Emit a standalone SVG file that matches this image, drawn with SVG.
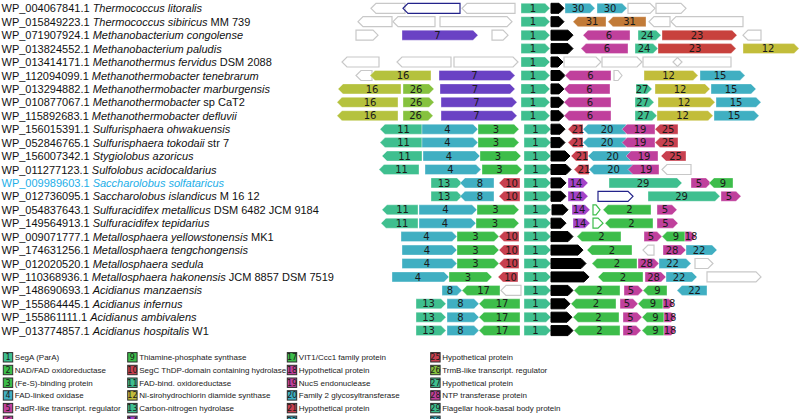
<svg xmlns="http://www.w3.org/2000/svg" width="800" height="419" viewBox="0 0 800 419">
<style>
.lb{font-family:"Liberation Sans",Arial,sans-serif;font-size:11px;fill:#111}
.it{font-style:italic}
.hl{fill:#22aee8}
.n{font-family:"DejaVu Sans",sans-serif;font-size:10px;fill:#1a1a1a;text-anchor:middle}
.a{stroke:#fff;stroke-opacity:0.35;stroke-width:1}
.c1{fill:#3fbf8f}.c2{fill:#3dbd4a}.c4{fill:#40afc2}.c5{fill:#c0409c}.c7{fill:#6a42c4}
.c10{fill:#c8404f}.c23{fill:#c8413d}.c12{fill:#c2bd3a}.c16{fill:#b5c23e}.c26{fill:#86c23e}
.c14{fill:#a443c8}.c31{fill:#c27b38}.blk{fill:#000;stroke:#000}
.w{fill:none;stroke:#c8c8c8;stroke-width:1.2}
.bo{fill:none;stroke:#23238a;stroke-width:1.2}
.go{fill:none;stroke:#3dbd4a;stroke-width:1.2}
.sw{stroke:#2d2d2d;stroke-width:1}
.sn{font-family:"DejaVu Sans",sans-serif;font-size:8px;fill:#1a1a1a;text-anchor:middle}
.lt{font-family:"Liberation Sans",Arial,sans-serif;font-size:8px;fill:#222}
</style>
<g id="connectors"/>
<g id="row1" transform="translate(0,8.3)">
<text class="lb" x="1.5" y="4">WP_004067841.1 <tspan class="it">Thermococcus litoralis</tspan></text>
<polygon class="w" points="405,-5 376,-5 371,0 376,5 405,5"/>
<polygon class="bo" points="460,-5 408,-5 403,0 408,5 460,5"/>
<polygon class="w" points="515,-5 467,-5 462,0 467,5 515,5"/>
<polygon class="a c1" points="521,-5 545,-5 550,0 545,5 521,5"/><text class="n" x="533" y="3.6">1</text>
<polygon class="blk" points="551,-5 559,-5 564,0 559,5 551,5"/>
<polygon class="a c4" points="565,-5 590,-5 595,0 590,5 565,5"/><text class="n" x="578" y="3.6">30</text>
<polygon class="a c4" points="597,-5 622,-5 627,0 622,5 597,5"/><text class="n" x="610" y="3.6">30</text>
<polygon class="w" points="628,-5 650,-5 655,0 650,5 628,5"/>
<polygon class="w" points="656,-5 681,-5 686,0 681,5 656,5"/>
</g>
<g id="row2" transform="translate(0,21.7)">
<text class="lb" x="1.5" y="4">WP_015849223.1 <tspan class="it">Thermococcus sibiricus</tspan> MM 739</text>
<polygon class="w" points="392,-5 363,-5 358,0 363,5 392,5"/>
<polygon class="w" points="435,-5 398,-5 393,0 398,5 435,5"/>
<polygon class="w" points="440,-5 507,-5 512,0 507,5 440,5"/>
<polygon class="a c1" points="521,-5 545,-5 550,0 545,5 521,5"/><text class="n" x="533" y="3.6">1</text>
<polygon class="blk" points="551,-5 559,-5 564,0 559,5 551,5"/>
<polygon class="a c31" points="606,-5 578,-5 573,0 578,5 606,5"/><text class="n" x="592" y="3.6">31</text>
<polygon class="a c31" points="646,-5 613,-5 608,0 613,5 646,5"/><text class="n" x="629.5" y="3.6">31</text>
<polygon class="w" points="670,-5 654,-5 649,0 654,5 670,5"/>
<polygon class="w" points="743,-5 676,-5 671,0 676,5 743,5"/>
</g>
<g id="row3" transform="translate(0,35.2)">
<text class="lb" x="1.5" y="4">WP_071907924.1 <tspan class="it">Methanobacterium congolense</tspan></text>
<polygon class="w" points="356,-5 373,-5 378,0 373,5 356,5"/>
<polygon class="a c7" points="402,-5 473,-5 478,0 473,5 402,5"/><text class="n" x="437.5" y="3.6">7</text>
<polygon class="w" points="492,-5 503,-5 508,0 503,5 492,5"/>
<polygon class="a c1" points="521,-5 545,-5 550,0 545,5 521,5"/><text class="n" x="533" y="3.6">1</text>
<polygon class="blk" points="551,-5 568,-5 573,0 568,5 551,5"/>
<polygon class="a c5" points="630,-5 588,-5 583,0 588,5 630,5"/><text class="n" x="609" y="3.6">6</text>
<polygon class="a c1" points="638,-5 656,-5 661,0 656,5 638,5"/><text class="n" x="647" y="3.6">24</text>
<polygon class="a c23" points="662,-5 732,-5 737,0 732,5 662,5"/><text class="n" x="697" y="3.6">23</text>
<polygon class="w" points="761,-5 748,-5 743,0 748,5 761,5"/>
</g>
<g id="row4" transform="translate(0,48.6)">
<text class="lb" x="1.5" y="4">WP_013824552.1 <tspan class="it">Methanobacterium paludis</tspan></text>
<polygon class="a c1" points="521,-5 545,-5 550,0 545,5 521,5"/><text class="n" x="533" y="3.6">1</text>
<polygon class="blk" points="551,-5 568,-5 573,0 568,5 551,5"/>
<polygon class="a c5" points="628,-5 586,-5 581,0 586,5 628,5"/><text class="n" x="607" y="3.6">6</text>
<polygon class="a c1" points="635,-5 653,-5 658,0 653,5 635,5"/><text class="n" x="644" y="3.6">24</text>
<polygon class="a c23" points="658,-5 731,-5 736,0 731,5 658,5"/><text class="n" x="695" y="3.6">23</text>
<polygon class="a c12" points="743,-5 794,-5 799,0 794,5 743,5"/><text class="n" x="768" y="3.6">12</text>
</g>
<g id="row5" transform="translate(0,62)">
<text class="lb" x="1.5" y="4">WP_013414171.1 <tspan class="it">Methanothermus fervidus</tspan> DSM 2088</text>
<polygon class="w" points="379,-5 347,-5 342,0 347,5 379,5"/>
<polygon class="w" points="451,-5 402,-5 397,0 402,5 451,5"/>
<polygon class="w" points="454,-5 513,-5 518,0 513,5 454,5"/>
<polygon class="a c1" points="521,-5 545,-5 550,0 545,5 521,5"/><text class="n" x="533" y="3.6">1</text>
<polygon class="blk" points="551,-5 558,-5 563,0 558,5 551,5"/>
<polygon class="w" points="564,-5 596,-5 601,0 596,5 564,5"/>
<polygon class="w" points="602,-5 637,-5 642,0 637,5 602,5"/>
<polygon class="w" points="643,-5 677,-5 682,0 677,5 643,5"/>
<polygon class="w" points="731,-5 678,-5 673,0 678,5 731,5"/>
</g>
<g id="row6" transform="translate(0,75.5)">
<text class="lb" x="1.5" y="4">WP_112094099.1 <tspan class="it">Methanothermobacter tenebrarum</tspan></text>
<polygon class="w" points="372,-5 361,-5 356,0 361,5 372,5"/>
<polygon class="a c16" points="431,-5 375,-5 370,0 375,5 431,5"/><text class="n" x="403" y="3.6">16</text>
<polygon class="a c7" points="439,-5 510,-5 515,0 510,5 439,5"/><text class="n" x="474.5" y="3.6">7</text>
<polygon class="a c1" points="521,-5 545,-5 550,0 545,5 521,5"/><text class="n" x="533" y="3.6">1</text>
<polygon class="blk" points="551,-5 560,-5 565,0 560,5 551,5"/>
<polygon class="a c5" points="611,-5 570,-5 565,0 570,5 611,5"/><text class="n" x="590.5" y="3.6">6</text>
<polygon class="w" points="614,-5 618,-5 622,0 618,5 614,5"/>
<polygon class="a c12" points="644,-5 693,-5 698,0 693,5 644,5"/><text class="n" x="668.5" y="3.6">12</text>
<polygon class="a c4" points="700,-5 740,-5 745,0 740,5 700,5"/><text class="n" x="720" y="3.6">15</text>
</g>
<g id="row7" transform="translate(0,88.9)">
<text class="lb" x="1.5" y="4">WP_013294882.1 <tspan class="it">Methanothermobacter marburgensis</tspan></text>
<polygon class="a c16" points="401,-5 343,-5 338,0 343,5 401,5"/><text class="n" x="372" y="3.6">16</text>
<polygon class="a c26" points="403,-5 429,-5 434,0 429,5 403,5"/><text class="n" x="416" y="3.6">26</text>
<polygon class="a c7" points="440,-5 510,-5 515,0 510,5 440,5"/><text class="n" x="475" y="3.6">7</text>
<polygon class="a c1" points="521,-5 545,-5 550,0 545,5 521,5"/><text class="n" x="533" y="3.6">1</text>
<polygon class="blk" points="551,-5 559,-5 564,0 559,5 551,5"/>
<polygon class="a c5" points="610,-5 569,-5 564,0 569,5 610,5"/><text class="n" x="589.5" y="3.6">6</text>
<polygon class="a c1" points="636,-5 647,-5 652,0 647,5 636,5"/><text class="n" x="642" y="3.6">27</text>
<polygon class="a c12" points="655,-5 705,-5 710,0 705,5 655,5"/><text class="n" x="680" y="3.6">12</text>
<polygon class="a c4" points="711,-5 751,-5 756,0 751,5 711,5"/><text class="n" x="731" y="3.6">15</text>
</g>
<g id="row8" transform="translate(0,102.3)">
<text class="lb" x="1.5" y="4">WP_010877067.1 <tspan class="it">Methanothermobacter</tspan> sp CaT2</text>
<polygon class="a c16" points="398,-5 342,-5 337,0 342,5 398,5"/><text class="n" x="370" y="3.6">16</text>
<polygon class="a c26" points="403,-5 429,-5 434,0 429,5 403,5"/><text class="n" x="416" y="3.6">26</text>
<polygon class="a c7" points="441,-5 512,-5 517,0 512,5 441,5"/><text class="n" x="476.5" y="3.6">7</text>
<polygon class="a c1" points="521,-5 545,-5 550,0 545,5 521,5"/><text class="n" x="533" y="3.6">1</text>
<polygon class="blk" points="551,-5 559,-5 564,0 559,5 551,5"/>
<polygon class="a c5" points="611,-5 569,-5 564,0 569,5 611,5"/><text class="n" x="590" y="3.6">6</text>
<polygon class="a c1" points="635,-5 649,-5 654,0 649,5 635,5"/><text class="n" x="642.5" y="3.6">27</text>
<polygon class="a c12" points="658,-5 710,-5 715,0 710,5 658,5"/><text class="n" x="684" y="3.6">12</text>
<polygon class="a c4" points="716,-5 756,-5 761,0 756,5 716,5"/><text class="n" x="736" y="3.6">15</text>
</g>
<g id="row9" transform="translate(0,115.7)">
<text class="lb" x="1.5" y="4">WP_115892683.1 <tspan class="it">Methanothermobacter defluvii</tspan></text>
<polygon class="a c16" points="398,-5 342,-5 337,0 342,5 398,5"/><text class="n" x="370" y="3.6">16</text>
<polygon class="a c26" points="403,-5 428,-5 433,0 428,5 403,5"/><text class="n" x="415.5" y="3.6">26</text>
<polygon class="a c7" points="441,-5 512,-5 517,0 512,5 441,5"/><text class="n" x="476.5" y="3.6">7</text>
<polygon class="a c1" points="521,-5 545,-5 550,0 545,5 521,5"/><text class="n" x="533" y="3.6">1</text>
<polygon class="blk" points="551,-5 559,-5 564,0 559,5 551,5"/>
<polygon class="a c5" points="611,-5 569,-5 564,0 569,5 611,5"/><text class="n" x="590" y="3.6">6</text>
<polygon class="a c1" points="635,-5 652,-5 657,0 652,5 635,5"/><text class="n" x="643.5" y="3.6">27</text>
<polygon class="a c12" points="657,-5 708,-5 713,0 708,5 657,5"/><text class="n" x="682.5" y="3.6">12</text>
<polygon class="a c4" points="714,-5 754,-5 759,0 754,5 714,5"/><text class="n" x="734" y="3.6">15</text>
</g>
<g id="row10" transform="translate(0,129.2)">
<text class="lb" x="1.5" y="4">WP_156015391.1 <tspan class="it">Sulfurisphaera ohwakuensis</tspan></text>
<polygon class="a c1" points="422,-5 385,-5 380,0 385,5 422,5"/><text class="n" x="403.5" y="3.6">11</text>
<polygon class="a c4" points="422,-5 473,-5 478,0 473,5 422,5"/><text class="n" x="447.5" y="3.6">4</text>
<polygon class="a c2" points="478,-5 514,-5 519,0 514,5 478,5"/><text class="n" x="496" y="3.6">3</text>
<polygon class="a c1" points="524,-5 546,-5 551,0 546,5 524,5"/><text class="n" x="535.5" y="3.6">1</text>
<polygon class="blk" points="551,-5 560,-5 565,0 560,5 551,5"/>
<polygon class="a c10" points="583,-5 573,-5 568,0 573,5 583,5"/><text class="n" x="578" y="3.6">21</text>
<polygon class="a c4" points="626,-5 588,-5 583,0 588,5 626,5"/><text class="n" x="607" y="3.6">20</text>
<polygon class="a c5" points="655,-5 627,-5 622,0 627,5 655,5"/><text class="n" x="640" y="3.6">19</text>
<polygon class="a c10" points="678,-5 660,-5 655,0 660,5 678,5"/><text class="n" x="668" y="3.6">25</text>
</g>
<g id="row11" transform="translate(0,142.6)">
<text class="lb" x="1.5" y="4">WP_052846765.1 <tspan class="it">Sulfurisphaera tokodaii</tspan> str 7</text>
<polygon class="a c1" points="422,-5 385,-5 380,0 385,5 422,5"/><text class="n" x="403.5" y="3.6">11</text>
<polygon class="a c4" points="422,-5 473,-5 478,0 473,5 422,5"/><text class="n" x="447.5" y="3.6">4</text>
<polygon class="a c2" points="478,-5 514,-5 519,0 514,5 478,5"/><text class="n" x="496" y="3.6">3</text>
<polygon class="a c1" points="524,-5 546,-5 551,0 546,5 524,5"/><text class="n" x="535.5" y="3.6">1</text>
<polygon class="blk" points="551,-5 560,-5 565,0 560,5 551,5"/>
<polygon class="a c10" points="583,-5 573,-5 568,0 573,5 583,5"/><text class="n" x="578" y="3.6">21</text>
<polygon class="a c4" points="626,-5 588,-5 583,0 588,5 626,5"/><text class="n" x="607" y="3.6">20</text>
<polygon class="a c5" points="655,-5 627,-5 622,0 627,5 655,5"/><text class="n" x="640" y="3.6">19</text>
<polygon class="a c10" points="678,-5 660,-5 655,0 660,5 678,5"/><text class="n" x="668" y="3.6">25</text>
</g>
<g id="row12" transform="translate(0,156)">
<text class="lb" x="1.5" y="4">WP_156007342.1 <tspan class="it">Stygiolobus azoricus</tspan></text>
<polygon class="a c1" points="422,-5 387,-5 382,0 387,5 422,5"/><text class="n" x="404.5" y="3.6">11</text>
<polygon class="a c4" points="423,-5 475,-5 480,0 475,5 423,5"/><text class="n" x="449" y="3.6">4</text>
<polygon class="a c2" points="480,-5 516,-5 521,0 516,5 480,5"/><text class="n" x="498" y="3.6">3</text>
<polygon class="a c1" points="524,-5 546,-5 551,0 546,5 524,5"/><text class="n" x="535.5" y="3.6">1</text>
<polygon class="blk" points="551,-5 565,-5 570,0 565,5 551,5"/>
<polygon class="a c10" points="588,-5 576,-5 571,0 576,5 588,5"/><text class="n" x="582" y="3.6">21</text>
<polygon class="a c4" points="632,-5 593,-5 588,0 593,5 632,5"/><text class="n" x="612.5" y="3.6">20</text>
<polygon class="a c5" points="658,-5 631,-5 626,0 631,5 658,5"/><text class="n" x="644" y="3.6">19</text>
<polygon class="a c10" points="686,-5 666,-5 661,0 666,5 686,5"/><text class="n" x="675.5" y="3.6">25</text>
</g>
<g id="row13" transform="translate(0,169.5)">
<text class="lb" x="1.5" y="4">WP_011277123.1 <tspan class="it">Sulfolobus acidocaldarius</tspan></text>
<polygon class="a c1" points="419,-5 384,-5 379,0 384,5 419,5"/><text class="n" x="401.5" y="3.6">11</text>
<polygon class="a c4" points="425,-5 476,-5 481,0 476,5 425,5"/><text class="n" x="450.5" y="3.6">4</text>
<polygon class="a c2" points="482,-5 517,-5 522,0 517,5 482,5"/><text class="n" x="499.5" y="3.6">3</text>
<polygon class="a c1" points="524,-5 546,-5 551,0 546,5 524,5"/><text class="n" x="535.5" y="3.6">1</text>
<polygon class="blk" points="551,-5 566,-5 571,0 566,5 551,5"/>
<polygon class="a c10" points="589,-5 579,-5 574,0 579,5 589,5"/><text class="n" x="584" y="3.6">21</text>
<polygon class="a c4" points="633,-5 594,-5 589,0 594,5 633,5"/><text class="n" x="613.5" y="3.6">20</text>
<polygon class="a c5" points="659,-5 633,-5 628,0 633,5 659,5"/><text class="n" x="646" y="3.6">19</text>
<polygon class="w" points="691,-5 667,-5 662,0 667,5 691,5"/>
</g>
<g id="row14" transform="translate(0,182.9)">
<text class="lb hl" x="1.5" y="4">WP_009989603.1 <tspan class="it">Saccharolobus solfataricus</tspan></text>
<polygon class="a c1" points="431,-5 457,-5 462,0 457,5 431,5"/><text class="n" x="444" y="3.6">13</text>
<polygon class="a c4" points="494,-5 465,-5 460,0 465,5 494,5"/><text class="n" x="480" y="3.6">8</text>
<polygon class="a c10" points="520,-5 504,-5 499,0 504,5 520,5"/><text class="n" x="511.5" y="3.6">10</text>
<polygon class="a c1" points="524,-5 546,-5 551,0 546,5 524,5"/><text class="n" x="535.5" y="3.6">1</text>
<polygon class="blk" points="551,-5 561,-5 566,0 561,5 551,5"/>
<polygon class="a c14" points="568,-5 583,-5 588,0 583,5 568,5"/><text class="n" x="576" y="3.6">14</text>
<polygon class="a c1" points="609,-5 677,-5 682,0 677,5 609,5"/><text class="n" x="643" y="3.6">29</text>
<polygon class="a c5" points="691,-5 706,-5 711,0 706,5 691,5"/><text class="n" x="699" y="3.6">5</text>
<polygon class="a c2" points="733,-5 714,-5 709,0 714,5 733,5"/><text class="n" x="723" y="3.6">9</text>
</g>
<g id="row15" transform="translate(0,196.3)">
<text class="lb" x="1.5" y="4">WP_012736095.1 <tspan class="it">Saccharolobus islandicus</tspan> M 16 12</text>
<polygon class="a c1" points="431,-5 457,-5 462,0 457,5 431,5"/><text class="n" x="444" y="3.6">13</text>
<polygon class="a c4" points="494,-5 465,-5 460,0 465,5 494,5"/><text class="n" x="480" y="3.6">8</text>
<polygon class="a c10" points="520,-5 504,-5 499,0 504,5 520,5"/><text class="n" x="511.5" y="3.6">10</text>
<polygon class="a c1" points="524,-5 546,-5 551,0 546,5 524,5"/><text class="n" x="535.5" y="3.6">1</text>
<polygon class="blk" points="551,-5 561,-5 566,0 561,5 551,5"/>
<polygon class="a c14" points="568,-5 583,-5 588,0 583,5 568,5"/><text class="n" x="576" y="3.6">14</text>
<polygon class="bo" points="598,-5 628,-5 633,0 628,5 598,5"/>
<polygon class="a c1" points="648,-5 715,-5 720,0 715,5 648,5"/><text class="n" x="681.5" y="3.6">29</text>
<polygon class="a c5" points="721,-5 736,-5 741,0 736,5 721,5"/><text class="n" x="729" y="3.6">5</text>
</g>
<g id="row16" transform="translate(0,209.8)">
<text class="lb" x="1.5" y="4">WP_054837643.1 <tspan class="it">Sulfuracidifex metallicus</tspan>  DSM 6482 JCM 9184</text>
<polygon class="a c1" points="418,-5 387,-5 382,0 387,5 418,5"/><text class="n" x="402.5" y="3.6">11</text>
<polygon class="a c4" points="419,-5 472,-5 477,0 472,5 419,5"/><text class="n" x="445.5" y="3.6">4</text>
<polygon class="a c2" points="477,-5 514,-5 519,0 514,5 477,5"/><text class="n" x="495.5" y="3.6">3</text>
<polygon class="a c1" points="524,-5 546,-5 551,0 546,5 524,5"/><text class="n" x="535.5" y="3.6">1</text>
<polygon class="blk" points="552,-5 563,-5 568,0 563,5 552,5"/>
<polygon class="a c14" points="572,-5 585,-5 590,0 585,5 572,5"/><text class="n" x="579" y="3.6">14</text>
<polygon class="go" points="593,-5 596,-5 600,0 596,5 593,5"/>
<polygon class="a c2" points="651,-5 608,-5 603,0 608,5 651,5"/><text class="n" x="629.5" y="3.6">2</text>
<polygon class="a c5" points="657,-5 672,-5 677,0 672,5 657,5"/><text class="n" x="665" y="3.6">5</text>
</g>
<g id="row17" transform="translate(0,223.2)">
<text class="lb" x="1.5" y="4">WP_149564913.1 <tspan class="it">Sulfuracidifex tepidarius</tspan></text>
<polygon class="a c1" points="418,-5 386,-5 381,0 386,5 418,5"/><text class="n" x="402" y="3.6">11</text>
<polygon class="a c4" points="419,-5 471,-5 476,0 471,5 419,5"/><text class="n" x="445" y="3.6">4</text>
<polygon class="a c2" points="476,-5 514,-5 519,0 514,5 476,5"/><text class="n" x="495" y="3.6">3</text>
<polygon class="a c1" points="524,-5 546,-5 551,0 546,5 524,5"/><text class="n" x="535.5" y="3.6">1</text>
<polygon class="blk" points="551,-5 561,-5 566,0 561,5 551,5"/>
<polygon class="a c14" points="573,-5 585,-5 590,0 585,5 573,5"/><text class="n" x="580" y="3.6">14</text>
<polygon class="go" points="593,-5 598,-5 603,0 598,5 593,5"/>
<polygon class="a c2" points="653,-5 610,-5 605,0 610,5 653,5"/><text class="n" x="631.5" y="3.6">2</text>
<polygon class="a c5" points="657,-5 673,-5 678,0 673,5 657,5"/><text class="n" x="665.5" y="3.6">5</text>
</g>
<g id="row18" transform="translate(0,236.6)">
<text class="lb" x="1.5" y="4">WP_009071777.1 <tspan class="it">Metallosphaera yellowstonensis</tspan> MK1</text>
<polygon class="a c4" points="401,-5 452,-5 457,0 452,5 401,5"/><text class="n" x="426.5" y="3.6">4</text>
<polygon class="a c2" points="457,-5 494,-5 499,0 494,5 457,5"/><text class="n" x="475.5" y="3.6">3</text>
<polygon class="a c10" points="519,-5 504,-5 499,0 504,5 519,5"/><text class="n" x="511.5" y="3.6">10</text>
<polygon class="a c1" points="524,-5 546,-5 551,0 546,5 524,5"/><text class="n" x="535.5" y="3.6">1</text>
<polygon class="blk" points="551,-5 568,-5 573,0 568,5 551,5"/>
<polygon class="a c2" points="621,-5 582,-5 577,0 582,5 621,5"/><text class="n" x="601.5" y="3.6">2</text>
<polygon class="a c5" points="644,-5 657,-5 662,0 657,5 644,5"/><text class="n" x="651" y="3.6">5</text>
<polygon class="a c2" points="685,-5 667,-5 662,0 667,5 685,5"/><text class="n" x="676" y="3.6">9</text>
<polygon class="a c5" points="685,-5 691,-5 696,0 691,5 685,5"/><text class="n" x="691" y="3.6">18</text>
</g>
<g id="row19" transform="translate(0,250.1)">
<text class="lb" x="1.5" y="4">WP_174631256.1 <tspan class="it">Metallosphaera tengchongensis</tspan></text>
<polygon class="a c4" points="402,-5 452,-5 457,0 452,5 402,5"/><text class="n" x="427" y="3.6">4</text>
<polygon class="a c2" points="457,-5 494,-5 499,0 494,5 457,5"/><text class="n" x="475.5" y="3.6">3</text>
<polygon class="a c10" points="519,-5 504,-5 499,0 504,5 519,5"/><text class="n" x="511.5" y="3.6">10</text>
<polygon class="a c1" points="524,-5 546,-5 551,0 546,5 524,5"/><text class="n" x="535.5" y="3.6">1</text>
<polygon class="blk" points="551,-5 578,-5 583,0 578,5 551,5"/>
<polygon class="a c2" points="632,-5 592,-5 587,0 592,5 632,5"/><text class="n" x="612" y="3.6">2</text>
<polygon class="w" points="654,-5 648,-5 643,0 648,5 654,5"/>
<polygon class="a c5" points="663,-5 681,-5 686,0 681,5 663,5"/><text class="n" x="672" y="3.6">28</text>
<polygon class="a c4" points="686,-5 712,-5 717,0 712,5 686,5"/><text class="n" x="699" y="3.6">22</text>
</g>
<g id="row20" transform="translate(0,263.5)">
<text class="lb" x="1.5" y="4">WP_012020520.1 <tspan class="it">Metallosphaera sedula</tspan></text>
<polygon class="a c4" points="402,-5 452,-5 457,0 452,5 402,5"/><text class="n" x="427" y="3.6">4</text>
<polygon class="a c2" points="457,-5 494,-5 499,0 494,5 457,5"/><text class="n" x="475.5" y="3.6">3</text>
<polygon class="a c10" points="519,-5 504,-5 499,0 504,5 519,5"/><text class="n" x="511.5" y="3.6">10</text>
<polygon class="a c1" points="524,-5 546,-5 551,0 546,5 524,5"/><text class="n" x="535.5" y="3.6">1</text>
<polygon class="blk" points="551,-5 581,-5 586,0 581,5 551,5"/>
<polygon class="a c2" points="637,-5 597,-5 592,0 597,5 637,5"/><text class="n" x="617" y="3.6">2</text>
<polygon class="a c5" points="638,-5 654,-5 659,0 654,5 638,5"/><text class="n" x="646.5" y="3.6">28</text>
<polygon class="a c4" points="659,-5 686,-5 691,0 686,5 659,5"/><text class="n" x="672.5" y="3.6">22</text>
<polygon class="w" points="695,-5 708,-5 713,0 708,5 695,5"/>
</g>
<g id="row21" transform="translate(0,276.9)">
<text class="lb" x="1.5" y="4">WP_110368936.1 <tspan class="it">Metallosphaera hakonensis</tspan> JCM 8857 DSM 7519</text>
<polygon class="a c4" points="392,-5 444,-5 449,0 444,5 392,5"/><text class="n" x="418" y="3.6">4</text>
<polygon class="a c2" points="449,-5 487,-5 492,0 487,5 449,5"/><text class="n" x="468" y="3.6">3</text>
<polygon class="a c10" points="518,-5 503,-5 498,0 503,5 518,5"/><text class="n" x="510.5" y="3.6">10</text>
<polygon class="a c1" points="524,-5 546,-5 551,0 546,5 524,5"/><text class="n" x="535.5" y="3.6">1</text>
<polygon class="blk" points="551,-5 584,-5 589,0 584,5 551,5"/>
<polygon class="a c2" points="643,-5 603,-5 598,0 603,5 643,5"/><text class="n" x="623" y="3.6">2</text>
<polygon class="a c5" points="645,-5 661,-5 666,0 661,5 645,5"/><text class="n" x="653.5" y="3.6">28</text>
<polygon class="a c4" points="666,-5 692,-5 697,0 692,5 666,5"/><text class="n" x="679" y="3.6">22</text>
<polygon class="w" points="707,-5 756,-5 761,0 756,5 707,5"/>
</g>
<g id="row22" transform="translate(0,290.4)">
<text class="lb" x="1.5" y="4">WP_148690693.1 <tspan class="it">Acidianus manzaensis</tspan></text>
<polygon class="a c4" points="442,-5 457,-5 462,0 457,5 442,5"/><text class="n" x="450" y="3.6">8</text>
<polygon class="a c2" points="500,-5 467,-5 462,0 467,5 500,5"/><text class="n" x="483.5" y="3.6">17</text>
<polygon class="w" points="521,-5 506,-5 501,0 506,5 521,5"/>
<polygon class="a c1" points="524,-5 546,-5 551,0 546,5 524,5"/><text class="n" x="535.5" y="3.6">1</text>
<polygon class="blk" points="551,-5 568,-5 573,0 568,5 551,5"/>
<polygon class="a c2" points="620,-5 579,-5 574,0 579,5 620,5"/><text class="n" x="599.5" y="3.6">2</text>
<polygon class="a c5" points="624,-5 638,-5 643,0 638,5 624,5"/><text class="n" x="631" y="3.6">5</text>
<polygon class="a c2" points="667,-5 648,-5 643,0 648,5 667,5"/><text class="n" x="657.5" y="3.6">9</text>
<polygon class="a c4" points="707,-5 682,-5 677,0 682,5 707,5"/><text class="n" x="694.5" y="3.6">22</text>
</g>
<g id="row23" transform="translate(0,303.8)">
<text class="lb" x="1.5" y="4">WP_155864445.1 <tspan class="it">Acidianus infernus</tspan></text>
<polygon class="a c1" points="416,-5 441,-5 446,0 441,5 416,5"/><text class="n" x="428.5" y="3.6">13</text>
<polygon class="a c4" points="447,-5 474,-5 479,0 474,5 447,5"/><text class="n" x="460.5" y="3.6">8</text>
<polygon class="a c2" points="520,-5 484,-5 479,0 484,5 520,5"/><text class="n" x="502" y="3.6">17</text>
<polygon class="a c1" points="524,-5 546,-5 551,0 546,5 524,5"/><text class="n" x="535.5" y="3.6">1</text>
<polygon class="blk" points="551,-5 565,-5 570,0 565,5 551,5"/>
<polygon class="a c2" points="616,-5 576,-5 571,0 576,5 616,5"/><text class="n" x="596" y="3.6">2</text>
<polygon class="a c5" points="620,-5 633,-5 638,0 633,5 620,5"/><text class="n" x="627" y="3.6">5</text>
<polygon class="a c2" points="663,-5 643,-5 638,0 643,5 663,5"/><text class="n" x="653" y="3.6">9</text>
<polygon class="a c5" points="663,-5 669,-5 674,0 669,5 663,5"/><text class="n" x="669" y="3.6">18</text>
</g>
<g id="row24" transform="translate(0,317.2)">
<text class="lb" x="1.5" y="4">WP_155861111.1 <tspan class="it">Acidianus ambivalens</tspan></text>
<polygon class="a c1" points="416,-5 441,-5 446,0 441,5 416,5"/><text class="n" x="428.5" y="3.6">13</text>
<polygon class="a c4" points="447,-5 474,-5 479,0 474,5 447,5"/><text class="n" x="460.5" y="3.6">8</text>
<polygon class="a c2" points="520,-5 484,-5 479,0 484,5 520,5"/><text class="n" x="502" y="3.6">17</text>
<polygon class="a c1" points="524,-5 546,-5 551,0 546,5 524,5"/><text class="n" x="535.5" y="3.6">1</text>
<polygon class="blk" points="551,-5 567,-5 572,0 567,5 551,5"/>
<polygon class="a c2" points="619,-5 578,-5 573,0 578,5 619,5"/><text class="n" x="598.5" y="3.6">2</text>
<polygon class="a c5" points="623,-5 637,-5 642,0 637,5 623,5"/><text class="n" x="630.5" y="3.6">5</text>
<polygon class="a c2" points="664,-5 647,-5 642,0 647,5 664,5"/><text class="n" x="655.5" y="3.6">9</text>
<polygon class="a c5" points="664,-5 671,-5 676,0 671,5 664,5"/><text class="n" x="670" y="3.6">18</text>
</g>
<g id="row25" transform="translate(0,330.6)">
<text class="lb" x="1.5" y="4">WP_013774857.1 <tspan class="it">Acidianus hospitalis</tspan> W1</text>
<polygon class="a c1" points="416,-5 441,-5 446,0 441,5 416,5"/><text class="n" x="428.5" y="3.6">13</text>
<polygon class="a c4" points="447,-5 474,-5 479,0 474,5 447,5"/><text class="n" x="460.5" y="3.6">8</text>
<polygon class="a c2" points="520,-5 484,-5 479,0 484,5 520,5"/><text class="n" x="502" y="3.6">17</text>
<polygon class="a c1" points="524,-5 546,-5 551,0 546,5 524,5"/><text class="n" x="535.5" y="3.6">1</text>
<polygon class="blk" points="551,-5 568,-5 573,0 568,5 551,5"/>
<polygon class="a c2" points="620,-5 579,-5 574,0 579,5 620,5"/><text class="n" x="599.5" y="3.6">2</text>
<polygon class="a c5" points="623,-5 636,-5 641,0 636,5 623,5"/><text class="n" x="630" y="3.6">5</text>
<polygon class="a c2" points="664,-5 647,-5 642,0 647,5 664,5"/><text class="n" x="655.5" y="3.6">9</text>
<polygon class="a c5" points="664,-5 671,-5 676,0 671,5 664,5"/><text class="n" x="670" y="3.6">18</text>
</g>
<g id="legend">
<g id="leg1" transform="translate(3.3,357.3)"><rect class="sw c1" x="0" y="-4.7" width="9.4" height="9.4"/><text class="sn" x="4.7" y="3">1</text><text class="lt" x="11.5" y="3">SegA (ParA)</text></g>
<g id="leg2" transform="translate(3.3,370)"><rect class="sw c2" x="0" y="-4.7" width="9.4" height="9.4"/><text class="sn" x="4.7" y="3">2</text><text class="lt" x="11.5" y="3">NAD/FAD oxidoreductase</text></g>
<g id="leg3" transform="translate(3.3,382.7)"><rect class="sw c2" x="0" y="-4.7" width="9.4" height="9.4"/><text class="sn" x="4.7" y="3">3</text><text class="lt" x="11.5" y="3">(Fe-S)-binding protein</text></g>
<g id="leg4" transform="translate(3.3,395.4)"><rect class="sw c4" x="0" y="-4.7" width="9.4" height="9.4"/><text class="sn" x="4.7" y="3">4</text><text class="lt" x="11.5" y="3">FAD-linked oxidase</text></g>
<g id="leg5" transform="translate(3.3,408.1)"><rect class="sw c5" x="0" y="-4.7" width="9.4" height="9.4"/><text class="sn" x="4.7" y="3">5</text><text class="lt" x="11.5" y="3">PadR-like transcript. regulator</text></g>
<g id="leg6" transform="translate(3.3,420.8)"><rect class="sw c5" x="0" y="-4.7" width="9.4" height="9.4"/><text class="sn" x="4.7" y="3">6</text><text class="lt" x="11.5" y="3">Radical SAM protein</text></g>
<g id="leg9" transform="translate(127.7,357.3)"><rect class="sw c2" x="0" y="-4.7" width="9.4" height="9.4"/><text class="sn" x="4.7" y="3">9</text><text class="lt" x="11.5" y="3">Thiamine-phosphate synthase</text></g>
<g id="leg10" transform="translate(127.7,370)"><rect class="sw c10" x="0" y="-4.7" width="9.4" height="9.4"/><text class="sn" x="4.7" y="3">10</text><text class="lt" x="11.5" y="3">SegC ThDP-domain containing hydrolase</text></g>
<g id="leg11" transform="translate(127.7,382.7)"><rect class="sw c1" x="0" y="-4.7" width="9.4" height="9.4"/><text class="sn" x="4.7" y="3">11</text><text class="lt" x="11.5" y="3">FAD-bind. oxidoreductase</text></g>
<g id="leg12" transform="translate(127.7,395.4)"><rect class="sw c12" x="0" y="-4.7" width="9.4" height="9.4"/><text class="sn" x="4.7" y="3">12</text><text class="lt" x="11.5" y="3">Ni-sirohydrochlorin diamide synthase</text></g>
<g id="leg13" transform="translate(127.7,408.1)"><rect class="sw c1" x="0" y="-4.7" width="9.4" height="9.4"/><text class="sn" x="4.7" y="3">13</text><text class="lt" x="11.5" y="3">Carbon-nitrogen hydrolase</text></g>
<g id="leg14" transform="translate(127.7,420.8)"><rect class="sw c14" x="0" y="-4.7" width="9.4" height="9.4"/><text class="sn" x="4.7" y="3">14</text><text class="lt" x="11.5" y="3">Hypothetical protein</text></g>
<g id="leg17" transform="translate(287.3,357.3)"><rect class="sw c2" x="0" y="-4.7" width="9.4" height="9.4"/><text class="sn" x="4.7" y="3">17</text><text class="lt" x="11.5" y="3">VIT1/Ccc1 family protein</text></g>
<g id="leg18" transform="translate(287.3,370)"><rect class="sw c5" x="0" y="-4.7" width="9.4" height="9.4"/><text class="sn" x="4.7" y="3">18</text><text class="lt" x="11.5" y="3">Hypothetical protein</text></g>
<g id="leg19" transform="translate(287.3,382.7)"><rect class="sw c5" x="0" y="-4.7" width="9.4" height="9.4"/><text class="sn" x="4.7" y="3">19</text><text class="lt" x="11.5" y="3">NucS endonuclease</text></g>
<g id="leg20" transform="translate(287.3,395.4)"><rect class="sw c4" x="0" y="-4.7" width="9.4" height="9.4"/><text class="sn" x="4.7" y="3">20</text><text class="lt" x="11.5" y="3">Family 2 glycosyltransferase</text></g>
<g id="leg21" transform="translate(287.3,408.1)"><rect class="sw c10" x="0" y="-4.7" width="9.4" height="9.4"/><text class="sn" x="4.7" y="3">21</text><text class="lt" x="11.5" y="3">Hypothetical protein</text></g>
<g id="leg22" transform="translate(287.3,420.8)"><rect class="sw c4" x="0" y="-4.7" width="9.4" height="9.4"/><text class="sn" x="4.7" y="3">22</text><text class="lt" x="11.5" y="3">DUF1611-containing protein</text></g>
<g id="leg25" transform="translate(430.7,357.3)"><rect class="sw c10" x="0" y="-4.7" width="9.4" height="9.4"/><text class="sn" x="4.7" y="3">25</text><text class="lt" x="11.5" y="3">Hypothetical protein</text></g>
<g id="leg26" transform="translate(430.7,370)"><rect class="sw c26" x="0" y="-4.7" width="9.4" height="9.4"/><text class="sn" x="4.7" y="3">26</text><text class="lt" x="11.5" y="3">TrmB-like transcript. regulator</text></g>
<g id="leg27" transform="translate(430.7,382.7)"><rect class="sw c1" x="0" y="-4.7" width="9.4" height="9.4"/><text class="sn" x="4.7" y="3">27</text><text class="lt" x="11.5" y="3">Hypothetical protein</text></g>
<g id="leg28" transform="translate(430.7,395.4)"><rect class="sw c5" x="0" y="-4.7" width="9.4" height="9.4"/><text class="sn" x="4.7" y="3">28</text><text class="lt" x="11.5" y="3">NTP transferase protein</text></g>
<g id="leg29" transform="translate(430.7,408.1)"><rect class="sw c1" x="0" y="-4.7" width="9.4" height="9.4"/><text class="sn" x="4.7" y="3">29</text><text class="lt" x="11.5" y="3">Flagellar hook-basal body protein</text></g>
<g id="leg30" transform="translate(430.7,420.8)"><rect class="sw c4" x="0" y="-4.7" width="9.4" height="9.4"/><text class="sn" x="4.7" y="3">30</text><text class="lt" x="11.5" y="3">Ribosomal protein</text></g>
</g>
</svg>
